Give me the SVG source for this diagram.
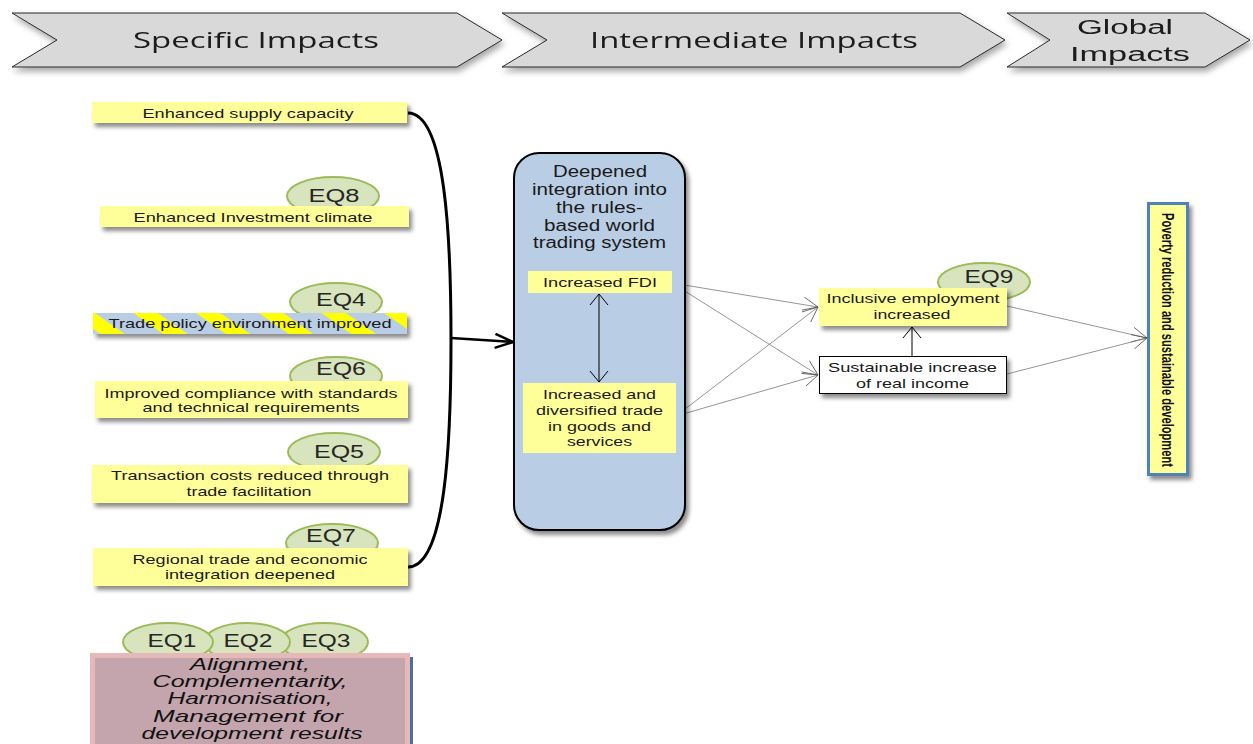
<svg xmlns="http://www.w3.org/2000/svg" width="1253" height="744" viewBox="0 0 1253 744">
  <defs>
    <filter id="shadow" x="-20%" y="-20%" width="150%" height="160%">
      <feDropShadow dx="3" dy="4" stdDeviation="2.2" flood-color="#000" flood-opacity="0.45"/>
    </filter>
    <filter id="shadowSoft" x="-10%" y="-20%" width="130%" height="170%">
      <feDropShadow dx="2" dy="4" stdDeviation="3" flood-color="#000" flood-opacity="0.35"/>
    </filter>
    <pattern id="stripes" patternUnits="userSpaceOnUse" width="36" height="36" patternTransform="rotate(-55)">
      <rect x="0" y="0" width="36" height="36" fill="#b9cde5"/>
      <rect x="0" y="0" width="14" height="36" fill="#ffff00"/>
    </pattern>
    <marker id="openHead" viewBox="0 0 12 20" refX="11" refY="10" markerWidth="12" markerHeight="20" markerUnits="userSpaceOnUse" orient="auto-start-reverse">
      <path d="M0,1 L11,10 L0,19" fill="none" stroke="#000" stroke-width="1"/>
    </marker>
    <marker id="greyHead" viewBox="0 0 16 16" refX="15" refY="8" markerWidth="16" markerHeight="16" markerUnits="userSpaceOnUse" orient="auto">
      <path d="M0,0.5 L15,8 L0,15.5" fill="none" stroke="#555" stroke-width="0.8"/>
    </marker>
    <marker id="bigHead" viewBox="0 0 20 16" refX="19" refY="8" markerWidth="20" markerHeight="16" markerUnits="userSpaceOnUse" orient="auto">
      <path d="M1,1 L19,8 L1,15" fill="none" stroke="#000" stroke-width="2.5"/>
    </marker>
    <style>
      .chev { fill: #d9d9d9; stroke: #2b2b2b; stroke-width: 1; }
      .chevText { font-family: "Open Sans", "Liberation Sans", sans-serif; font-size: 22px; fill: #1a1a1a; }
      .chevTextSmall { font-family: "Liberation Sans", Arial, sans-serif; font-size: 20px; fill: #1a1a1a; }
      .box { fill: #ffff99; }
      .lbl { font-family: "Liberation Sans", Arial, sans-serif; font-size: 13.5px; fill: #1a1a1a; text-anchor: middle; }
      .eq { fill: #d7e4bd; stroke: #9bbb59; stroke-width: 2; }
      .eqText { font-family: "Liberation Sans", Arial, sans-serif; font-size: 17.5px; fill: #262626; text-anchor: middle; }
      .thin { stroke: #7a7a7a; stroke-width: 0.8; fill: none; }
      .blk { stroke: #000; stroke-width: 1; fill: none; }
    </style>
  </defs>

  <rect width="1253" height="744" fill="#ffffff"/>

  <!-- Phase chevrons -->
  <g id="phase-specific" filter="url(#shadowSoft)">
    <polygon class="chev" points="12,13 457,13 502,40 457,67 12,67 57,40"/>
    <text class="chevText" x="256" y="48" text-anchor="middle" textLength="246" lengthAdjust="spacingAndGlyphs">Specific Impacts</text>
  </g>
  <g id="phase-intermediate" filter="url(#shadowSoft)">
    <polygon class="chev" points="502,13 960,13 1005,40 960,67 502,67 547,40"/>
    <text class="chevText" x="754" y="48" text-anchor="middle" textLength="328" lengthAdjust="spacingAndGlyphs">Intermediate Impacts</text>
  </g>
  <g id="phase-global" filter="url(#shadowSoft)">
    <polygon class="chev" points="1007,13 1205,13 1250,40 1205,67 1007,67 1050,40"/>
    <text class="chevTextSmall" x="1125" y="34" text-anchor="middle" textLength="96" lengthAdjust="spacingAndGlyphs">Global</text>
    <text class="chevTextSmall" x="1130" y="61" text-anchor="middle" textLength="120" lengthAdjust="spacingAndGlyphs">Impacts</text>
  </g>

  <!-- Connectors -->
  <g id="connectors">
    <path d="M408,113 C446,113 451,240 451,340 C451,440 446,567 408,567" fill="none" stroke="#000" stroke-width="3"/>
    <line x1="451" y1="338" x2="513" y2="342" stroke="#000" stroke-width="2.5" marker-end="url(#bigHead)"/>
    <line class="thin" x1="672" y1="283" x2="818" y2="307" marker-end="url(#greyHead)"/>
    <line class="thin" x1="672" y1="283" x2="818" y2="375" marker-end="url(#greyHead)"/>
    <line class="thin" x1="676" y1="416" x2="818" y2="307" marker-end="url(#greyHead)"/>
    <line class="thin" x1="676" y1="416" x2="818" y2="375" marker-end="url(#greyHead)"/>
    <line class="thin" x1="1007" y1="306" x2="1147" y2="338" marker-end="url(#greyHead)"/>
    <line class="thin" x1="1007" y1="374" x2="1147" y2="338" marker-end="url(#greyHead)"/>
  </g>

  <!-- Specific impacts -->
  <g id="supply-capacity">
    <rect class="box" x="92" y="102" width="315" height="21" filter="url(#shadow)"/>
    <text class="lbl" x="248" y="118" textLength="211" lengthAdjust="spacingAndGlyphs">Enhanced supply capacity</text>
  </g>
  <g id="investment-climate">
    <ellipse class="eq" cx="333" cy="196" rx="46" ry="19"/>
    <text class="eqText" x="334" y="202" textLength="51" lengthAdjust="spacingAndGlyphs">EQ8</text>
    <rect class="box" x="100" y="206" width="309" height="21" filter="url(#shadow)"/>
    <text class="lbl" x="253" y="222" textLength="239" lengthAdjust="spacingAndGlyphs">Enhanced Investment climate</text>
  </g>
  <g id="trade-policy">
    <ellipse class="eq" cx="336" cy="302" rx="46" ry="19"/>
    <text class="eqText" x="341" y="306" textLength="50" lengthAdjust="spacingAndGlyphs">EQ4</text>
    <rect x="93" y="313" width="314" height="21" fill="url(#stripes)" filter="url(#shadow)"/>
    <text class="lbl" x="250" y="328" textLength="283" lengthAdjust="spacingAndGlyphs">Trade policy environment improved</text>
  </g>
  <g id="standards-compliance">
    <ellipse class="eq" cx="336" cy="376" rx="46" ry="19"/>
    <text class="eqText" x="341" y="375" textLength="50" lengthAdjust="spacingAndGlyphs">EQ6</text>
    <rect class="box" x="95" y="381" width="313" height="37" filter="url(#shadow)"/>
    <text class="lbl" x="251" y="398" textLength="293" lengthAdjust="spacingAndGlyphs">Improved compliance with standards</text>
    <text class="lbl" x="251" y="412" textLength="217" lengthAdjust="spacingAndGlyphs">and technical requirements</text>
  </g>
  <g id="transaction-costs">
    <ellipse class="eq" cx="334" cy="452" rx="46" ry="19"/>
    <text class="eqText" x="339" y="458" textLength="50" lengthAdjust="spacingAndGlyphs">EQ5</text>
    <rect class="box" x="92" y="465" width="316" height="38" filter="url(#shadow)"/>
    <text class="lbl" x="250" y="480" textLength="278" lengthAdjust="spacingAndGlyphs">Transaction costs reduced through</text>
    <text class="lbl" x="249" y="496" textLength="125" lengthAdjust="spacingAndGlyphs">trade facilitation</text>
  </g>
  <g id="regional-integration">
    <ellipse class="eq" cx="332" cy="543" rx="46" ry="19"/>
    <text class="eqText" x="331" y="542" textLength="50" lengthAdjust="spacingAndGlyphs">EQ7</text>
    <rect class="box" x="93" y="548" width="315" height="38" filter="url(#shadow)"/>
    <text class="lbl" x="250" y="564" textLength="235" lengthAdjust="spacingAndGlyphs">Regional trade and economic</text>
    <text class="lbl" x="250" y="579" textLength="170" lengthAdjust="spacingAndGlyphs">integration deepened</text>
  </g>

  <!-- Cross-cutting principles -->
  <g id="principles">
    <ellipse class="eq" cx="324" cy="642" rx="44" ry="19"/>
    <ellipse class="eq" cx="247" cy="642" rx="43" ry="19"/>
    <ellipse class="eq" cx="168" cy="642" rx="45" ry="19"/>
    <text class="eqText" x="172" y="647" textLength="49" lengthAdjust="spacingAndGlyphs">EQ1</text>
    <text class="eqText" x="248" y="647" textLength="49" lengthAdjust="spacingAndGlyphs">EQ2</text>
    <text class="eqText" x="326" y="647" textLength="49" lengthAdjust="spacingAndGlyphs">EQ3</text>
    <rect x="407" y="657" width="6" height="90" fill="#4f6d9c"/>
    <rect x="92.5" y="655.5" width="315" height="95" fill="#c4a5ad" stroke="#e6b9b8" stroke-width="5"/>
    <g font-family="Liberation Sans, Arial, sans-serif" font-size="17px" font-style="italic" fill="#111" text-anchor="middle">
      <text x="250" y="670" textLength="120" lengthAdjust="spacingAndGlyphs">Alignment,</text>
      <text x="250" y="687" textLength="195" lengthAdjust="spacingAndGlyphs">Complementarity,</text>
      <text x="250" y="704" textLength="165" lengthAdjust="spacingAndGlyphs">Harmonisation,</text>
      <text x="248" y="722" textLength="190" lengthAdjust="spacingAndGlyphs">Management for</text>
      <text x="252" y="739" textLength="221" lengthAdjust="spacingAndGlyphs">development results</text>
    </g>
  </g>

  <!-- Intermediate impacts -->
  <g id="deepened-integration">
    <rect x="514" y="153" width="171" height="377" rx="25" ry="25" fill="#b9cde5" stroke="#000" stroke-width="2" filter="url(#shadow)"/>
    <g font-family="Liberation Sans, Arial, sans-serif" font-size="16px" fill="#1a1a1a" text-anchor="middle">
      <text x="600" y="177" textLength="94" lengthAdjust="spacingAndGlyphs">Deepened</text>
      <text x="599.5" y="195" textLength="135" lengthAdjust="spacingAndGlyphs">integration into</text>
      <text x="599.5" y="213" textLength="87" lengthAdjust="spacingAndGlyphs">the rules-</text>
      <text x="599.5" y="231" textLength="111" lengthAdjust="spacingAndGlyphs">based world</text>
      <text x="599.5" y="248" textLength="133" lengthAdjust="spacingAndGlyphs">trading system</text>
    </g>
  </g>
  <g id="increased-fdi">
    <rect class="box" x="528" y="271" width="144" height="22"/>
    <text class="lbl" x="600" y="287" textLength="114" lengthAdjust="spacingAndGlyphs">Increased FDI</text>
  </g>
  <g id="fdi-trade-link">
    <line class="blk" x1="599" y1="294" x2="599" y2="382" marker-start="url(#openHead)" marker-end="url(#openHead)"/>
  </g>
  <g id="diversified-trade">
    <rect class="box" x="523" y="383" width="153" height="70"/>
    <text class="lbl" x="599.5" y="399" textLength="113" lengthAdjust="spacingAndGlyphs">Increased and</text>
    <text class="lbl" x="599.5" y="415" textLength="127" lengthAdjust="spacingAndGlyphs">diversified trade</text>
    <text class="lbl" x="599.5" y="431" textLength="103" lengthAdjust="spacingAndGlyphs">in goods and</text>
    <text class="lbl" x="599.5" y="446" textLength="65" lengthAdjust="spacingAndGlyphs">services</text>
  </g>
  <g id="inclusive-employment">
    <ellipse class="eq" cx="984" cy="282" rx="46" ry="19"/>
    <text class="eqText" x="989" y="283" textLength="49" lengthAdjust="spacingAndGlyphs">EQ9</text>
    <rect class="box" x="819" y="288" width="188" height="38" filter="url(#shadow)"/>
    <text class="lbl" x="913" y="303" textLength="173" lengthAdjust="spacingAndGlyphs">Inclusive employment</text>
    <text class="lbl" x="912" y="319" textLength="77" lengthAdjust="spacingAndGlyphs">increased</text>
  </g>
  <g id="real-income">
    <rect x="819.5" y="356.5" width="187" height="37" fill="#fff" stroke="#000" stroke-width="1" filter="url(#shadow)"/>
    <text class="lbl" x="912.5" y="372" textLength="169" lengthAdjust="spacingAndGlyphs">Sustainable increase</text>
    <text class="lbl" x="912.5" y="388" textLength="113" lengthAdjust="spacingAndGlyphs">of real income</text>
  </g>
  <g id="income-employment-link">
    <line class="blk" x1="912" y1="356" x2="912" y2="327" marker-end="url(#openHead)"/>
  </g>

  <!-- Global impact -->
  <g id="poverty-reduction">
    <rect x="1148.5" y="203.5" width="39" height="271" fill="#ffff99" stroke="#4f81bd" stroke-width="3" filter="url(#shadow)"/>
    <text transform="translate(1162,340) rotate(90)" x="0" y="0" font-family="Liberation Sans, Arial, sans-serif" font-size="16px" font-weight="bold" fill="#111" text-anchor="middle" textLength="254" lengthAdjust="spacingAndGlyphs">Poverty reduction and sustainable development</text>
  </g>
</svg>
